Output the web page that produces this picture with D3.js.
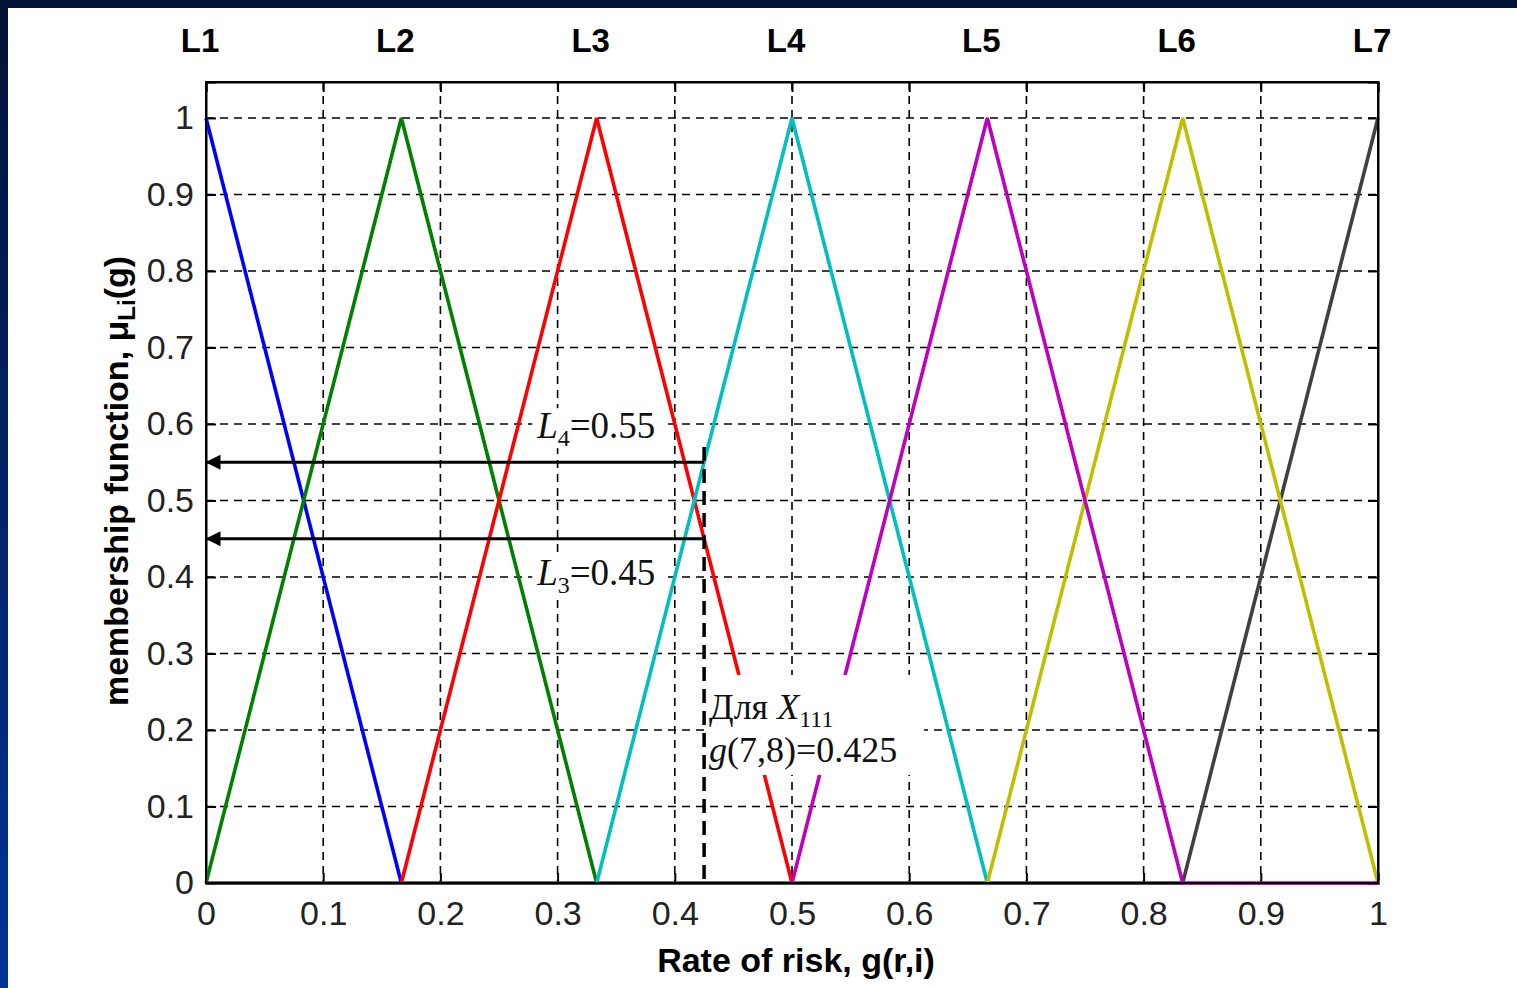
<!DOCTYPE html>
<html>
<head>
<meta charset="utf-8">
<script src="https://cdn.jsdelivr.net/npm/d3@7"></script>
<style>
  body { margin: 0; background: #fff; }
  svg { display: block; }
</style>
</head>
<body>
<svg id="chart"></svg>
<script>
// chart data
const xTicks = [0, 0.1, 0.2, 0.3, 0.4, 0.5, 0.6, 0.7, 0.8, 0.9, 1];
const yTicks = [0, 0.1, 0.2, 0.3, 0.4, 0.5, 0.6, 0.7, 0.8, 0.9, 1];
const termNames = ["L1", "L2", "L3", "L4", "L5", "L6", "L7"];
const termCenters = [0, 1/6, 2/6, 3/6, 4/6, 5/6, 1];
const termColors = ["#0000ff", "#008000", "#ff0000", "#00bfbf", "#bf00bf", "#bfbf00", "#404040"];

const L1 = [[0, 1], [1/6, 0]];
const L2 = [[0, 0], [1/6, 1], [2/6, 0]];
const L3 = [[1/6, 0], [2/6, 1], [3/6, 0]];
const L4 = [[2/6, 0], [3/6, 1], [4/6, 0]];
const L5 = [[3/6, 0], [4/6, 1], [5/6, 0], [1, 0]];
const L6 = [[4/6, 0], [5/6, 1], [1, 0]];
const L7 = [[0, 0], [5/6, 0], [1, 1]];
const series = [L7, L1, L2, L3, L4, L6, L5];
const seriesColors = [termColors[6], termColors[0], termColors[1], termColors[2], termColors[3], termColors[5], termColors[4]];

const gValue = 0.425;
const levels = [0.55, 0.45];
const levelSubs = ["4", "3"];

const width = 1517;
const height = 988;
const margin = { top: 82, right: 139, bottom: 105, left: 206 };
const chartWidth = width - margin.left - margin.right;
const chartHeight = height - margin.top - margin.bottom;

const svg = d3.select('#chart').attr('width', width).attr('height', height);

// dark blue frame on the top and left
const defs = svg.append('defs');
const grad = defs.append('linearGradient').attr('id', 'frame').attr('x1', 0).attr('y1', 0).attr('x2', 0).attr('y2', 1);
grad.append('stop').attr('offset', '0%').attr('stop-color', '#001235');
grad.append('stop').attr('offset', '100%').attr('stop-color', '#003399');
svg.append('rect').attr('width', width).attr('height', height).attr('fill', 'url(#frame)');
svg.append('rect').attr('x', 8).attr('y', 8).attr('width', width - 8).attr('height', height - 8).attr('fill', '#fff');

const arrow = defs.append('marker').attr('id', 'arrow')
  .attr('viewBox', '0 0 10 10').attr('refX', 9).attr('refY', 5)
  .attr('markerWidth', 7).attr('markerHeight', 5).attr('markerUnits', 'strokeWidth')
  .attr('orient', 'auto');
arrow.append('path').attr('d', 'M0,0 L10,5 L0,10 Z').attr('fill', '#000');

const xScale = d3.scaleLinear().domain([0, 1]).range([0, chartWidth]);
const yScale = d3.scaleLinear().domain([0, 1.047]).range([chartHeight, 0]);

const g = svg.append('g').attr('transform', `translate(${margin.left},${margin.top})`);

// dashed grid
g.selectAll('.vgrid').data(xTicks.slice(1, -1)).enter().append('line')
  .attr('x1', d => xScale(d)).attr('x2', d => xScale(d))
  .attr('y1', 0).attr('y2', chartHeight)
  .attr('stroke', '#000').attr('stroke-width', 1.6).attr('stroke-dasharray', '8,6');
g.selectAll('.hgrid').data(yTicks.slice(1)).enter().append('line')
  .attr('x1', 0).attr('x2', chartWidth)
  .attr('y1', d => yScale(d)).attr('y2', d => yScale(d))
  .attr('stroke', '#000').attr('stroke-width', 1.6).attr('stroke-dasharray', '8,6');

// axes with inward ticks on all four sides
const tickFont = "'Liberation Sans', Arial, sans-serif";
g.append('g').attr('transform', `translate(0,${chartHeight})`)
  .call(d3.axisBottom(xScale).tickValues(xTicks).tickSize(-10).tickPadding(18).tickFormat(d3.format('')));
g.append('g')
  .call(d3.axisLeft(yScale).tickValues(yTicks).tickSize(-10).tickPadding(12).tickFormat(d3.format('')));
g.append('g').call(d3.axisTop(xScale).tickValues(xTicks).tickSize(-10).tickFormat(''));
g.append('g').attr('transform', `translate(${chartWidth},0)`)
  .call(d3.axisRight(yScale).tickValues(yTicks).tickSize(-10).tickFormat(''));
g.selectAll('.domain').attr('stroke', '#000').attr('stroke-width', 2);
g.selectAll('.tick line').attr('stroke', '#000').attr('stroke-width', 2);
g.selectAll('.tick text').attr('font-family', tickFont).attr('font-size', 34).attr('fill', '#222');
svg.append('rect').attr('x', margin.left).attr('y', margin.top)
  .attr('width', chartWidth).attr('height', chartHeight)
  .attr('fill', 'none').attr('stroke', '#000').attr('stroke-width', 2);

// membership functions
const line = d3.line().x(d => xScale(d[0])).y(d => yScale(d[1]));
g.selectAll('.term').data(series).enter().append('path')
  .attr('d', line)
  .attr('fill', 'none')
  .attr('stroke', (d, i) => seriesColors[i])
  .attr('stroke-width', 3.6)
  .attr('stroke-linejoin', 'miter');

// term names above the plot
svg.selectAll('.term-name').data(termNames).enter().append('text')
  .attr('x', (d, i) => margin.left + xScale(termCenters[i]) - 6)
  .attr('y', 52)
  .attr('text-anchor', 'middle')
  .attr('font-family', tickFont).attr('font-weight', 'bold').attr('font-size', 33)
  .text(d => d);

// arrows from g = 0.425 to the axis
g.selectAll('.level').data(levels).enter().append('line')
  .attr('x1', xScale(gValue)).attr('x2', xScale(0) + 1)
  .attr('y1', d => yScale(d)).attr('y2', d => yScale(d))
  .attr('stroke', '#000').attr('stroke-width', 3)
  .attr('marker-end', 'url(#arrow)');

g.append('line')
  .attr('x1', xScale(gValue)).attr('x2', xScale(gValue))
  .attr('y1', yScale(0.57)).attr('y2', chartHeight)
  .attr('stroke', '#000').attr('stroke-width', 3.5).attr('stroke-dasharray', '14,8');

// level labels
const serif = "'Liberation Serif', 'Times New Roman', serif";
const levelLabelY = [yScale(0.55) - 24, yScale(0.45) + 46];
levels.forEach((v, i) => {
  const cx = xScale(0.333);
  g.append('rect').attr('x', cx - 64).attr('y', levelLabelY[i] - 30)
    .attr('width', 130).attr('height', 40).attr('fill', '#fff');
  const t = g.append('text').attr('x', cx).attr('y', levelLabelY[i])
    .attr('text-anchor', 'middle').attr('font-family', serif).attr('font-size', 37).attr('fill', '#111');
  t.append('tspan').attr('font-style', 'italic').text('L');
  t.append('tspan').attr('font-size', 24).attr('dy', 8).text(levelSubs[i]);
  t.append('tspan').attr('dy', -8).text('=' + v.toFixed(2));
});

// annotation box
const boxX = xScale(gValue) + 2;
g.append('rect').attr('x', boxX).attr('y', yScale(0.272))
  .attr('width', 218).attr('height', 100).attr('fill', '#fff');
const a1 = g.append('text').attr('x', boxX + 3).attr('y', yScale(0.215))
  .attr('font-family', serif).attr('font-size', 36).attr('fill', '#111');
a1.append('tspan').text('Для ');
a1.append('tspan').attr('font-style', 'italic').text('X');
a1.append('tspan').attr('font-size', 24).attr('dy', 8).text('111');
const a2 = g.append('text').attr('x', boxX + 3).attr('y', yScale(0.158))
  .attr('font-family', serif).attr('font-size', 36).attr('fill', '#111');
a2.append('tspan').attr('font-style', 'italic').text('g');
a2.append('tspan').text('(7,8)=' + gValue);

// axis titles
svg.append('text')
  .attr('x', margin.left + chartWidth / 2 + 4).attr('y', 972)
  .attr('text-anchor', 'middle')
  .attr('font-family', tickFont).attr('font-weight', 'bold').attr('font-size', 34)
  .text('Rate of risk, g(r,i)');

const yl = svg.append('text')
  .attr('transform', `translate(128,481) rotate(-90)`)
  .attr('text-anchor', 'middle')
  .attr('font-family', tickFont).attr('font-weight', 'bold').attr('font-size', 34);
yl.append('tspan').text('membership function, μ');
yl.append('tspan').attr('font-size', 24).attr('dy', 7).text('Li');
yl.append('tspan').attr('dy', -7).text('(g)');
</script>
</body>
</html>
